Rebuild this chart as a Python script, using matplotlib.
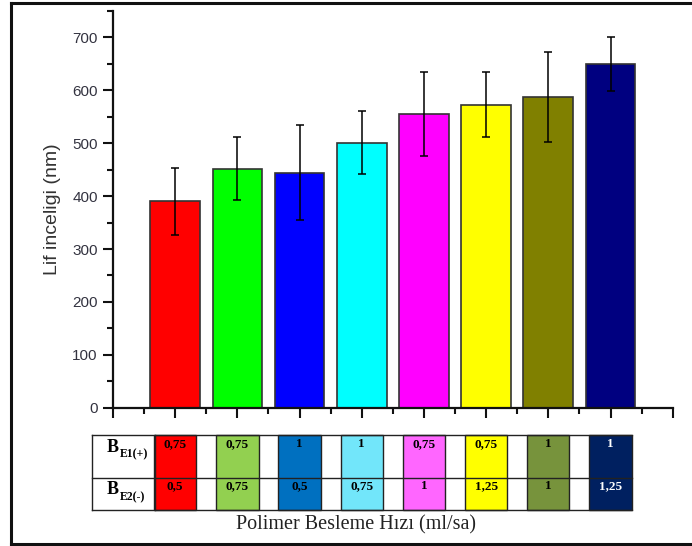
import matplotlib
matplotlib.use("Agg")
import matplotlib.pyplot as plt
from matplotlib.patches import Rectangle
from matplotlib.lines import Line2D

# fibre diameter per feed-rate setting
positions = [1, 2, 3, 4, 5, 6, 7, 8]
diameter = [390, 452, 444, 501, 555, 573, 588, 650]
diameter_err = [63, 59, 90, 60, 80, 62, 85, 51]
bar_colors = ["#FF0000", "#00FF00", "#0000FF", "#00FFFF",
              "#FF00FF", "#FFFF00", "#808000", "#000080"]

# feed rates of the two electrodes (ml/sa)
row_names = ["E1(+)", "E2(-)"]
be1 = ["0,75", "0,75", "1", "1", "0,75", "0,75", "1", "1"]
be2 = ["0,5", "0,75", "0,5", "0,75", "1", "1,25", "1", "1,25"]
cell_colors = ["#FF0000", "#92D050", "#0070C0", "#72E6FA",
               "#FF66FF", "#FFFF00", "#77933C", "#002060"]
cell_text_colors = ["black"] * 7 + ["white"]

plt.rcParams["font.family"] = ["Liberation Sans", "DejaVu Sans"]

fig = plt.figure(figsize=(6.92, 5.46), dpi=100)

# main bar chart
ax = fig.add_axes([0.1633, 0.2533, 0.8088, 0.7266])
ax.bar(positions, diameter, width=0.8, color=bar_colors,
       edgecolor="#333333", linewidth=1.2, zorder=2)
ax.errorbar(positions, diameter, yerr=diameter_err, fmt="none",
            ecolor="black", elinewidth=1.1, capsize=3, capthick=1.1, zorder=3)

ax.set_xlim(0, 9)
ax.set_ylim(0, 750)
ax.spines["top"].set_visible(False)
ax.spines["right"].set_visible(False)
for s in ("left", "bottom"):
    ax.spines[s].set_linewidth(1.6)
    ax.spines[s].set_color("#111111")

ax.set_xticks(range(0, 10))
ax.set_xticks([i + 0.5 for i in range(9)], minor=True)
ax.set_xticklabels([])
ax.set_yticks(range(0, 701, 100))
ax.set_yticks(range(50, 751, 100), minor=True)
ax.tick_params(axis="both", which="major", direction="out", length=7,
               width=1.5, color="#111111", labelsize=11,
               labelcolor="#333340", pad=4)
ax.tick_params(axis="both", which="minor", direction="out", length=4,
               width=1.5, color="#111111")
ax.set_ylabel("Lif inceligi (nm)", fontsize=14, color="#333333", labelpad=8)

# feed-rate table under the bars, sharing the bar x positions
tab = fig.add_axes([0.1633, 0.0659, 0.8088, 0.1366])
tab.set_xlim(0, 9)
tab.set_ylim(0, 74)
tab.axis("off")
row_top, row_mid, row_bot = 74, 32, 0
cell_w = 0.68
left_edge = -0.34
label_right = 0.675
right_edge = positions[-1] + cell_w / 2

for xi, c, t1, t2, tc in zip(positions, cell_colors, be1, be2, cell_text_colors):
    tab.add_patch(Rectangle((xi - cell_w / 2, row_bot), cell_w, row_top,
                            facecolor=c, edgecolor="#222222", linewidth=1.0,
                            clip_on=False))
    tab.text(xi, row_top - 2.5, t1, ha="center", va="top", fontsize=9.5,
             fontweight="bold", family="Liberation Serif", color=tc)
    tab.text(xi, row_mid - 2.5, t2, ha="center", va="top", fontsize=9.5,
             fontweight="bold", family="Liberation Serif", color=tc)

for yy in (row_top, row_mid, row_bot):
    tab.plot([left_edge, right_edge], [yy, yy], color="#222222", lw=1.0,
             clip_on=False)
for xx in (left_edge, label_right):
    tab.plot([xx, xx], [row_bot, row_top], color="#222222", lw=1.0,
             clip_on=False)

# row labels: bold B with a bold subscript
for yy, name in zip((row_top - 12, row_mid - 12), row_names):
    tab.text(-0.1, yy, "B", ha="left", va="center",
             fontsize=13, fontweight="bold", family="Liberation Serif")
    tab.annotate(name, (-0.1, yy), xytext=(9.5, -5),
                 textcoords="offset points", ha="left", va="center",
                 fontsize=8.5, fontweight="bold", family="Liberation Serif",
                 annotation_clip=False)

fig.text(0.514, 0.038, "Polimer Besleme Hızı (ml/sa)", ha="center",
         va="center", fontsize=14.5, family="Liberation Serif", color="#222222")

# outer frame (open on the right)
frame_kw = dict(color="#111111", lw=2.2, transform=fig.transFigure)
fig.add_artist(Line2D([0.0152, 0.0152], [0.0037, 0.9936], **frame_kw))
fig.add_artist(Line2D([0.0152, 1.0], [0.9936, 0.9936], **frame_kw))
fig.add_artist(Line2D([0.0152, 1.0], [0.0037, 0.0037], **frame_kw))

fig.savefig("out.png", dpi=100)
